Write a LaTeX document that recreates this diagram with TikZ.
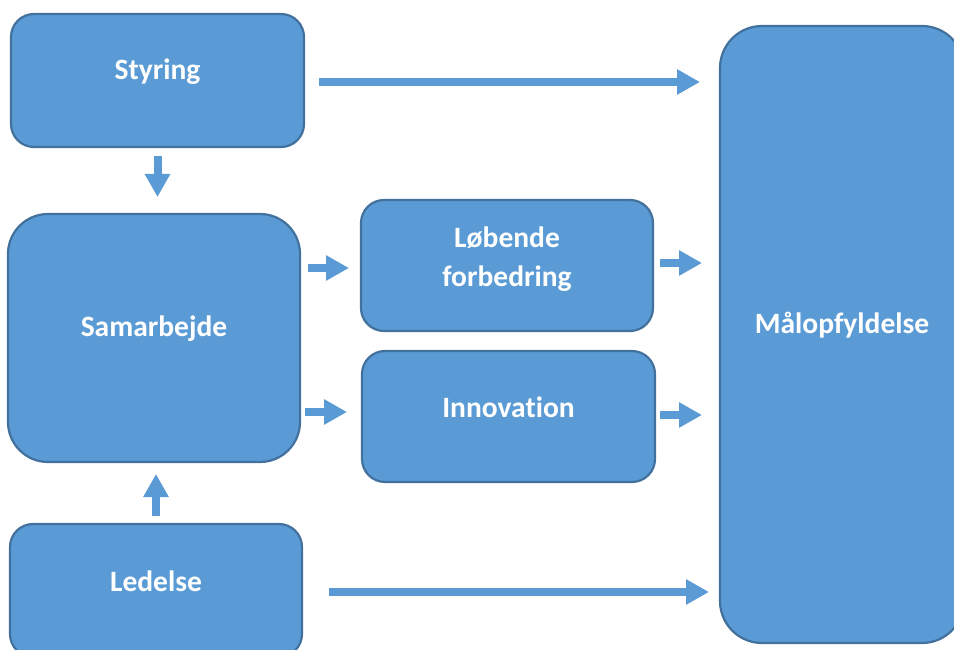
\documentclass[tikz,border=0pt]{standalone}
\usepackage{fontspec}
\setmainfont[Ligatures={NoCommon}]{Carlito}
\usetikzlibrary{arrows.meta}
\definecolor{boxfill}{HTML}{5B9BD5}
\definecolor{boxline}{HTML}{41719C}
\tikzset{
  box/.style={draw=boxline, fill=boxfill, line width=2.2pt, inner sep=0pt, outer sep=0pt},
  lbl/.style={text=white, font=\bfseries\fontsize{29.5}{39}\selectfont, align=center, inner sep=0pt, yshift=9pt},
  blockarrow/.style={draw=boxfill, line width=8pt, -{Triangle[width=24pt,length=23pt]}}
}
\begin{document}
\begin{tikzpicture}[x=1pt,y=-1pt]
\useasboundingbox (0,0) rectangle (954,650);
\clip (0,0) rectangle (954,650);
\node[box, minimum width=293pt, minimum height=133pt, rounded corners=23pt,
      label={[lbl]center:Styring}] (sty) at (157.5,80.5) {};
\node[box, minimum width=292pt, minimum height=248pt, rounded corners=40pt,
      label={[lbl]center:Samarbejde}] (sam) at (154,338) {};
\node[box, minimum width=292pt, minimum height=133pt, rounded corners=23pt,
      label={[lbl]center:Ledelse}] (led) at (156,590.5) {};
\node[box, minimum width=292pt, minimum height=131pt, rounded corners=23pt,
      label={[lbl, yshift=-3pt]center:{Løbende\\forbedring}}] (lob) at (507,265.5) {};
\node[box, minimum width=293pt, minimum height=131pt, rounded corners=23pt,
      label={[lbl]center:Innovation}] (inn) at (508.5,416.5) {};
\node[box, minimum width=244pt, minimum height=617pt, rounded corners=42pt,
      label={[lbl]center:Målopfyldelse}] (mal) at (842,334.5) {};
% arrows
\draw[blockarrow, shorten <=15pt, shorten >=20pt] ([yshift=-1.5pt]sty.east) -- ([yshift=-1.5pt]sty.east -| mal.west);
\draw[blockarrow, shorten <=9pt, shorten >=17pt] (sty.south) -- (sty.south |- sam.north);
\draw[blockarrow, shorten <=8pt, shorten >=12pt] (led.north) -- (led.north |- sam.south);
\draw[blockarrow, shorten <=8pt, shorten >=12pt] ([yshift=-2.5pt]lob.west -| sam.east) -- ([yshift=-2.5pt]lob.west);
\draw[blockarrow, shorten <=5pt, shorten >=15pt] ([yshift=4.5pt]inn.west -| sam.east) -- ([yshift=4.5pt]inn.west);
\draw[blockarrow, shorten <=7pt, shorten >=18pt] ([yshift=2.5pt]lob.east) -- ([yshift=2.5pt]lob.east -| mal.west);
\draw[blockarrow, shorten <=5pt, shorten >=18pt] ([yshift=1.5pt]inn.east) -- ([yshift=1.5pt]inn.east -| mal.west);
\draw[blockarrow, shorten <=27pt, shorten >=11pt] ([yshift=-1.5pt]led.east) -- ([yshift=-1.5pt]led.east -| mal.west);
\end{tikzpicture}
\end{document}
